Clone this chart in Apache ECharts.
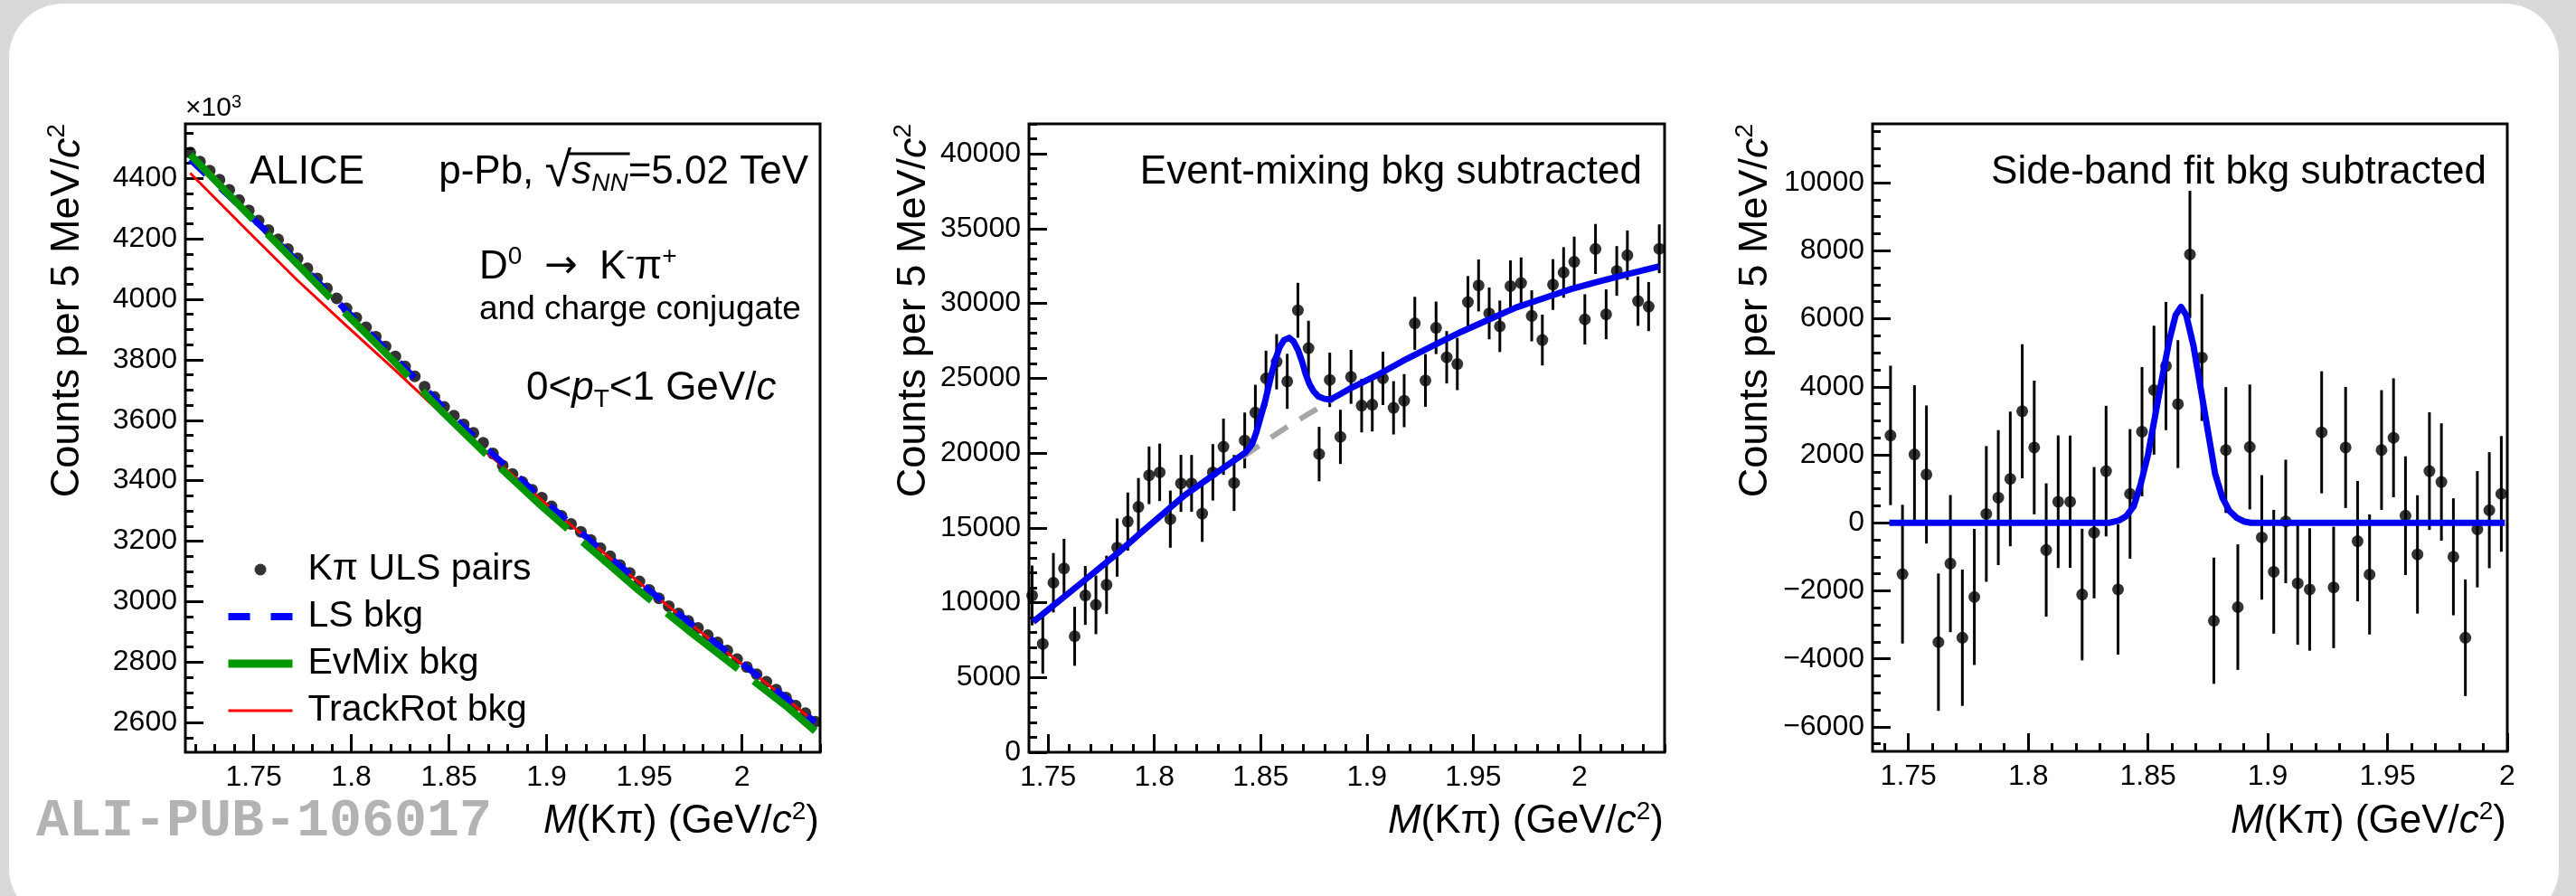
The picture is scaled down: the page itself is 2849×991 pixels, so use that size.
<!DOCTYPE html>
<html>
<head>
<meta charset="utf-8">
<script src="https://cdn.jsdelivr.net/npm/echarts@6/dist/echarts.min.js"></script>
<style>
  html, body { margin: 0; padding: 0; background: #d9d9d9; }
  #chart { width: 2849px; height: 991px; }
</style>
</head>
<body>
<div id="chart"></div>
<script>
// ---- data ----
// bin centres, 5 MeV/c2 bins
var massX = [
  1.7175, 1.7225, 1.7275, 1.7325, 1.7375, 1.7425, 1.7475, 1.7525, 1.7575, 1.7625,
  1.7675, 1.7725, 1.7775, 1.7825, 1.7875, 1.7925, 1.7975, 1.8025, 1.8075, 1.8125,
  1.8175, 1.8225, 1.8275, 1.8325, 1.8375, 1.8425, 1.8475, 1.8525, 1.8575, 1.8625,
  1.8675, 1.8725, 1.8775, 1.8825, 1.8875, 1.8925, 1.8975, 1.9025, 1.9075, 1.9125,
  1.9175, 1.9225, 1.9275, 1.9325, 1.9375, 1.9425, 1.9475, 1.9525, 1.9575, 1.9625,
  1.9675, 1.9725, 1.9775, 1.9825, 1.9875, 1.9925, 1.9975, 2.0025, 2.0075, 2.0125,
  2.0175, 2.0225, 2.0275, 2.0325, 2.0375
];

// panel 1: K pi unlike-sign pairs (x10^3)
var ulsCounts = [
  4485, 4455, 4425, 4395, 4362, 4328, 4294, 4260, 4229, 4198,
  4166, 4135, 4102, 4069, 4036, 4003, 3970, 3939, 3907, 3876,
  3844, 3811, 3778, 3745, 3711, 3677, 3644, 3615, 3586, 3558,
  3525, 3490, 3450, 3422, 3396, 3370, 3344, 3315, 3284, 3257,
  3231, 3204, 3177, 3150, 3121, 3095, 3067, 3039, 3011, 2985,
  2961, 2936, 2913, 2889, 2865, 2838, 2810, 2784, 2760, 2735,
  2709, 2683, 2656, 2631, 2603
];
var bkgX = [1.7175, 1.7475, 1.7725, 1.7975, 1.8225, 1.8475, 1.8725, 1.8975, 1.9225, 1.9475, 1.9725, 1.9975, 2.0225, 2.0375];
var lsBkg = [4462, 4280, 4125, 3962, 3805, 3640, 3487, 3341, 3201, 3064, 2934, 2808, 2682, 2601];
var evMixBkg = [4478, 4278, 4115, 3950, 3790, 3622, 3465, 3315, 3175, 3035, 2905, 2780, 2655, 2572];
var trackRotBkg = [4417, 4222, 4062, 3912, 3765, 3614, 3475, 3336, 3198, 3062, 2932, 2806, 2680, 2600];

// panel 2: event-mixing background subtracted
var evMixX = massX.slice(5);
var evMixSub = [
  10480, 7240, 11330, 12290, 7750, 10480, 9850, 11190, 13680, 15420,
  16400, 18510, 18710, 15580, 17970, 17970, 15950, 18710, 20420, 18000,
  20840, 22700, 24990, 26100, 24790, 29540, 27010, 19930, 24890, 21080,
  25090, 23170, 23230, 24990, 23020, 23500, 28670, 24850, 28370, 26400,
  25950, 30090, 31200, 29330, 28470, 31160, 31360, 29170, 27550, 31260,
  32070, 32780, 28930, 33640, 29270, 32170, 33220, 30150, 29790, 33650
];
var evMixErr = [
  2000, 1990, 1985, 1980, 1970, 1965, 1960, 1950, 1945, 1940,
  1930, 1925, 1920, 1910, 1905, 1900, 1890, 1885, 1880, 1870,
  1865, 1860, 1850, 1845, 1840, 1835, 1830, 1820, 1815, 1810,
  1800, 1795, 1790, 1785, 1780, 1775, 1770, 1760, 1755, 1750,
  1745, 1740, 1735, 1730, 1720, 1715, 1710, 1705, 1700, 1695,
  1690, 1685, 1680, 1670, 1665, 1660, 1655, 1650, 1640, 1630
];
var evFitX = [1.7430, 1.7674, 1.7830, 1.7943, 1.8142, 1.8300, 1.8428, 1.8460, 1.8480, 1.8500,
  1.8520, 1.8548, 1.8570, 1.8590, 1.8610, 1.8634, 1.8655, 1.8676, 1.8695, 1.8711,
  1.8730, 1.8750, 1.8770, 1.8800, 1.8827, 1.8870, 1.8930, 1.9059, 1.9188, 1.9317,
  1.9446, 1.9575, 1.9704, 1.9833, 1.9961, 2.0090, 2.0219, 2.0374];
var evFitY = [8720, 11520, 13340, 14750, 17170, 18760, 20030, 20600, 21400, 22420,
  23400, 25100, 26300, 27100, 27550, 27700, 27450, 26870, 26100, 25300,
  24600, 24100, 23800, 23620, 23570, 23900, 24380, 25290, 26300, 27210,
  28120, 28930, 29740, 30350, 30960, 31460, 31930, 32470];
var evBkgX = [1.8415, 1.8525, 1.8625, 1.8735, 1.8840];
var evBkgY = [19730, 20800, 21750, 22700, 23570];

// panel 3: side-band fit background subtracted
var sideX = massX.slice(5, 57);
var sideSub = [
  2570, -1510, 2010, 1420, -3510, -1200, -3380, -2180, 260, 740,
  1290, 3280, 2215, -800, 620, 620, -2110, -290, 1520, -1960,
  850, 2680, 3900, 4610, 3490, 7890, 4860, -2880, 2140, -2480,
  2230, -430, -1440, 40, -1780, -1960, 2660, -1900, 2215, -540,
  -1520, 2140, 2500, 210, -930, 1520, 1200, -1000, -3380, -190,
  370, 850
];
var sideErr = [
  2050, 2040, 2035, 2030, 2020, 2015, 2005, 2000, 1995, 1985,
  1980, 1970, 1965, 1960, 1950, 1945, 1935, 1930, 1920, 1915,
  1905, 1900, 1895, 1885, 1880, 1870, 1865, 1855, 1850, 1845,
  1835, 1830, 1820, 1815, 1805, 1800, 1795, 1785, 1780, 1770,
  1765, 1760, 1750, 1745, 1740, 1730, 1725, 1720, 1715, 1710,
  1705, 1700
];
var sideFitX = [1.7420, 1.8340, 1.8380, 1.8410, 1.8440, 1.8470, 1.8500, 1.8530, 1.8560, 1.8590,
  1.8615, 1.8638, 1.8660, 1.8690, 1.8720, 1.8750, 1.8780, 1.8810, 1.8840, 1.8870, 1.8900, 1.8930, 1.9990];
var sideFitY = [0, 0, 70, 200, 480, 1150, 2000, 3150, 4300, 5400,
  6100, 6350, 6100, 5200, 3950, 2700, 1450, 750, 350, 150, 40, 0, 0];

// axis ticks
var xMajor = [1.75, 1.8, 1.85, 1.9, 1.95, 2];
var p1YMajor = [2600, 2800, 3000, 3200, 3400, 3600, 3800, 4000, 4200, 4400];
var p2YMajor = [0, 5000, 10000, 15000, 20000, 25000, 30000, 35000, 40000];
var p3YMajor = [-6000, -4000, -2000, 0, 2000, 4000, 6000, 8000, 10000];

// ---- helpers ----
var F = '"Liberation Sans", Arial, Helvetica, sans-serif';
function pairs(xs, ys) { return xs.map(function (x, i) { return [x, ys[i]]; }); }
function triples(xs, ys, es) { return xs.map(function (x, i) { return [x, ys[i], es[i]]; }); }
function steps(a, b, s) {
  var out = [];
  for (var v = a; v <= b + s * 1e-6; v += s) out.push(Math.round(v * 1e6) / 1e6);
  return out;
}

function axis(dir, grid, min, max, ticks, len, labels) {
  var a = {
    type: 'value', gridIndex: grid, min: min, max: max,
    position: dir == 'x' ? 'bottom' : 'left', offset: 0,
    axisLine: { show: false, onZero: false }, splitLine: { show: false },
    axisTick: { show: true, inside: true, length: len, customValues: ticks, lineStyle: { color: '#000', width: 3 } },
    axisLabel: { show: false }
  };
  if (labels) {
    a.axisLabel = {
      show: true, customValues: ticks, margin: dir == 'x' ? 12 : 9,
      color: '#000', fontSize: 32, fontFamily: F,
      formatter: function (v) { return String(v).replace('-', '\u2212'); }
    };
  }
  return a;
}

function errBar(params, api) {
  var x = api.value(0), y = api.value(1), e = api.value(2);
  var lo = api.coord([x, y - e]), hi = api.coord([x, y + e]);
  return { type: 'line', shape: { x1: lo[0], y1: lo[1], x2: hi[0], y2: hi[1] }, style: { stroke: '#000', lineWidth: 3 } };
}

var gridBox = { show: true, borderColor: '#000', borderWidth: 3, backgroundColor: 'transparent', outerBoundsMode: 'none', containLabel: false };

var rich = {
  n: { fontSize: 44, fontFamily: F, lineHeight: 52 },
  i: { fontSize: 44, fontFamily: F, fontStyle: 'italic', lineHeight: 52 },
  t: { fontSize: 45, fontFamily: F, lineHeight: 52 },
  ti: { fontSize: 45, fontFamily: F, fontStyle: 'italic', lineHeight: 52 },
  sup: { fontSize: 28, fontFamily: F, verticalAlign: 'top', lineHeight: 30 },
  sub: { fontSize: 28, fontFamily: F, verticalAlign: 'bottom', lineHeight: 26 },
  subi: { fontSize: 28, fontFamily: F, fontStyle: 'italic', verticalAlign: 'bottom', lineHeight: 26 },
  r: { fontSize: 54, fontFamily: F, lineHeight: 52 },
  ar: { fontSize: 44, fontFamily: '"DejaVu Sans", sans-serif', lineHeight: 52 },
  s37: { fontSize: 37, fontFamily: F, lineHeight: 44 },
  x: { fontSize: 44, fontFamily: F, lineHeight: 50 },
  xi: { fontSize: 44, fontFamily: F, fontStyle: 'italic', lineHeight: 50 },
  xs: { fontSize: 28, fontFamily: F, verticalAlign: 'top', lineHeight: 28 },
  e: { fontSize: 30, fontFamily: F, lineHeight: 34 },
  es: { fontSize: 20, fontFamily: F, verticalAlign: 'top', lineHeight: 20 }
};

function label(x, y, text, align, extra) {
  var el = {
    type: 'text', x: x, y: y, silent: true, z: 50,
    style: { text: text, rich: rich, fill: '#000', fontSize: 44, fontFamily: F,
      align: align, textAlign: align, verticalAlign: 'middle', textVerticalAlign: 'middle' }
  };
  if (extra) for (var k in extra) el[k] = extra[k];
  return el;
}

// measure for the square-root overline
var mctx = document.createElement('canvas').getContext('2d');
function tw(font, s) { mctx.font = font; return mctx.measureText(s).width; }
var olRight = 894 - tw('44px ' + F, '=5.02 TeV') + 2;
var olLeft = olRight - tw('italic 28px ' + F, 'NN') - tw('italic 44px ' + F, 's') - 6;

var yTitle = '{t|Counts per 5 MeV/}{ti|c}{sup|2}';
var xTitle = '{xi|M}{x|(K\u03c0) (GeV/}{xi|c}{xs|2}{x|)}';
var noDot = { color: 'rgba(0,0,0,0)', borderColor: 'rgba(0,0,0,0)', borderWidth: 0 };

var chart = echarts.init(document.getElementById('chart'));
chart.setOption({
  backgroundColor: '#d9d9d9',
  animation: false,
  textStyle: { fontFamily: F },
  grid: [
    Object.assign({ left: 205, top: 137, width: 702, height: 695 }, gridBox),
    Object.assign({ left: 1138, top: 137, width: 703, height: 695 }, gridBox),
    Object.assign({ left: 2071, top: 137, width: 702, height: 694 }, gridBox)
  ],
  xAxis: [
    axis('x', 0, 1.715, 2.04, xMajor, 20, true),
    axis('x', 0, 1.715, 2.04, steps(1.72, 2.04, 0.01), 9, false),
    axis('x', 1, 1.741, 2.04, xMajor, 20, true),
    axis('x', 1, 1.741, 2.04, steps(1.75, 2.04, 0.01), 9, false),
    axis('x', 2, 1.735, 2.0, xMajor, 20, true),
    axis('x', 2, 1.735, 2.0, steps(1.74, 2.0, 0.01), 9, false)
  ],
  yAxis: [
    axis('y', 0, 2502, 4580, p1YMajor, 20, true),
    axis('y', 0, 2502, 4580, steps(2550, 4550, 50), 9, false),
    axis('y', 1, 0, 42000, p2YMajor, 20, true),
    axis('y', 1, 0, 42000, steps(1000, 42000, 1000), 9, false),
    axis('y', 2, -6720, 11730, p3YMajor, 20, true),
    axis('y', 2, -6720, 11730, steps(-6500, 11500, 500), 9, false)
  ],
  legend: {
    orient: 'vertical', left: 248, top: 604, padding: 0, itemGap: 0,
    itemWidth: 71, itemHeight: 13, selectedMode: false,
    textStyle: { fontSize: 41, fontFamily: F, color: '#000', lineHeight: 52, padding: [0, 0, 0, 12] },
    data: [
      { name: 'K\u03c0 ULS pairs', icon: 'circle' },
      { name: 'LS bkg', itemStyle: noDot, lineStyle: { color: '#0000ff', width: 8, type: [24, 23] } },
      { name: 'EvMix bkg', itemStyle: noDot, lineStyle: { color: '#009600', width: 9, type: 'solid' } },
      { name: 'TrackRot bkg', itemStyle: noDot, lineStyle: { color: '#ff0000', width: 3, type: 'solid' } }
    ]
  },
  series: [
    // panel 1
    { type: 'scatter', name: 'K\u03c0 ULS pairs', xAxisIndex: 0, yAxisIndex: 0, data: pairs(massX, ulsCounts),
      symbolSize: 13, itemStyle: { color: '#000' }, z: 2 },
    { type: 'line', name: 'TrackRot bkg', xAxisIndex: 0, yAxisIndex: 0, data: pairs(bkgX, trackRotBkg),
      symbol: 'none', itemStyle: { color: '#ff0000' }, lineStyle: { color: '#ff0000', width: 3 }, z: 3 },
    { type: 'line', name: 'LS bkg', xAxisIndex: 0, yAxisIndex: 0, data: pairs(bkgX, lsBkg),
      symbol: 'none', itemStyle: { color: '#0000ff' }, lineStyle: { color: '#0000ff', width: 7, type: [24, 22] }, z: 4 },
    { type: 'line', name: 'EvMix bkg', xAxisIndex: 0, yAxisIndex: 0, data: pairs(bkgX, evMixBkg),
      symbol: 'none', itemStyle: { color: '#009600' }, lineStyle: { color: '#009600', width: 8, type: [100, 22] }, z: 5 },
    // panel 2
    { type: 'custom', xAxisIndex: 2, yAxisIndex: 2, renderItem: errBar, encode: { x: 0, y: 1 },
      data: triples(evMixX, evMixSub, evMixErr), z: 2 },
    { type: 'scatter', xAxisIndex: 2, yAxisIndex: 2, data: pairs(evMixX, evMixSub),
      symbolSize: 13, itemStyle: { color: '#000' }, z: 3 },
    { type: 'line', xAxisIndex: 2, yAxisIndex: 2, data: pairs(evBkgX, evBkgY), symbol: 'none',
      lineStyle: { color: '#a6a6a6', width: 6, type: [22, 16] }, z: 4 },
    { type: 'line', xAxisIndex: 2, yAxisIndex: 2, data: pairs(evFitX, evFitY), symbol: 'none',
      lineStyle: { color: '#0000f0', width: 7, join: 'round' }, z: 5 },
    // panel 3
    { type: 'custom', xAxisIndex: 4, yAxisIndex: 4, renderItem: errBar, encode: { x: 0, y: 1 },
      data: triples(sideX, sideSub, sideErr), z: 2 },
    { type: 'scatter', xAxisIndex: 4, yAxisIndex: 4, data: pairs(sideX, sideSub),
      symbolSize: 13, itemStyle: { color: '#000' }, z: 3 },
    { type: 'line', xAxisIndex: 4, yAxisIndex: 4, data: pairs(sideFitX, sideFitY), symbol: 'none',
      lineStyle: { color: '#0000f0', width: 7, join: 'round' }, z: 5 }
  ],
  graphic: [
    { type: 'rect', silent: true, z: -100, shape: { x: 10, y: 4, width: 2820, height: 1016, r: 60 }, style: { fill: '#fff' } },
    // axis titles
    label(75, 137, yTitle, 'right', { rotation: Math.PI / 2 }),
    label(1011, 137, yTitle, 'right', { rotation: Math.PI / 2 }),
    label(1942, 137, yTitle, 'right', { rotation: Math.PI / 2 }),
    label(906, 909, xTitle, 'right'),
    label(1840, 909, xTitle, 'right'),
    label(2772, 909, xTitle, 'right'),
    label(205, 120, '{e|\u00d710}{es|3}', 'left'),
    // panel 1 texts
    label(276, 191, '{n|ALICE}', 'left'),
    label(894, 191, '{n|p-Pb, }{r|\u221a}{i|s}{subi|NN}{n|=5.02 TeV}', 'right'),
    { type: 'line', silent: true, z: 50, shape: { x1: olLeft, y1: 170, x2: olRight, y2: 170 }, style: { stroke: '#000', lineWidth: 3 } },
    label(530, 296, '{n|D}{sup|0}{n|  }{ar|\u2192}{n|  K}{sup|-}{n|\u03c0}{sup|+}', 'left'),
    label(530, 343, '{s37|and charge conjugate}', 'left'),
    label(582, 430, '{n|0<}{i|p}{sub|T}{n|<1 GeV/}{i|c}', 'left'),
    // panel 2, 3 texts
    label(1816, 191, '{n|Event-mixing bkg subtracted}', 'right'),
    label(2750, 191, '{n|Side-band fit bkg subtracted}', 'right'),
    { type: 'text', x: 40, y: 909, silent: true, z: 50,
      style: { text: 'ALI-PUB-106017', fill: '#b3b3b3', fontSize: 60, fontWeight: 'bold', fontFamily: '"Liberation Mono", "DejaVu Sans Mono", monospace',
        align: 'left', textAlign: 'left', verticalAlign: 'middle', textVerticalAlign: 'middle' } }
  ]
});
</script>
</body>
</html>
